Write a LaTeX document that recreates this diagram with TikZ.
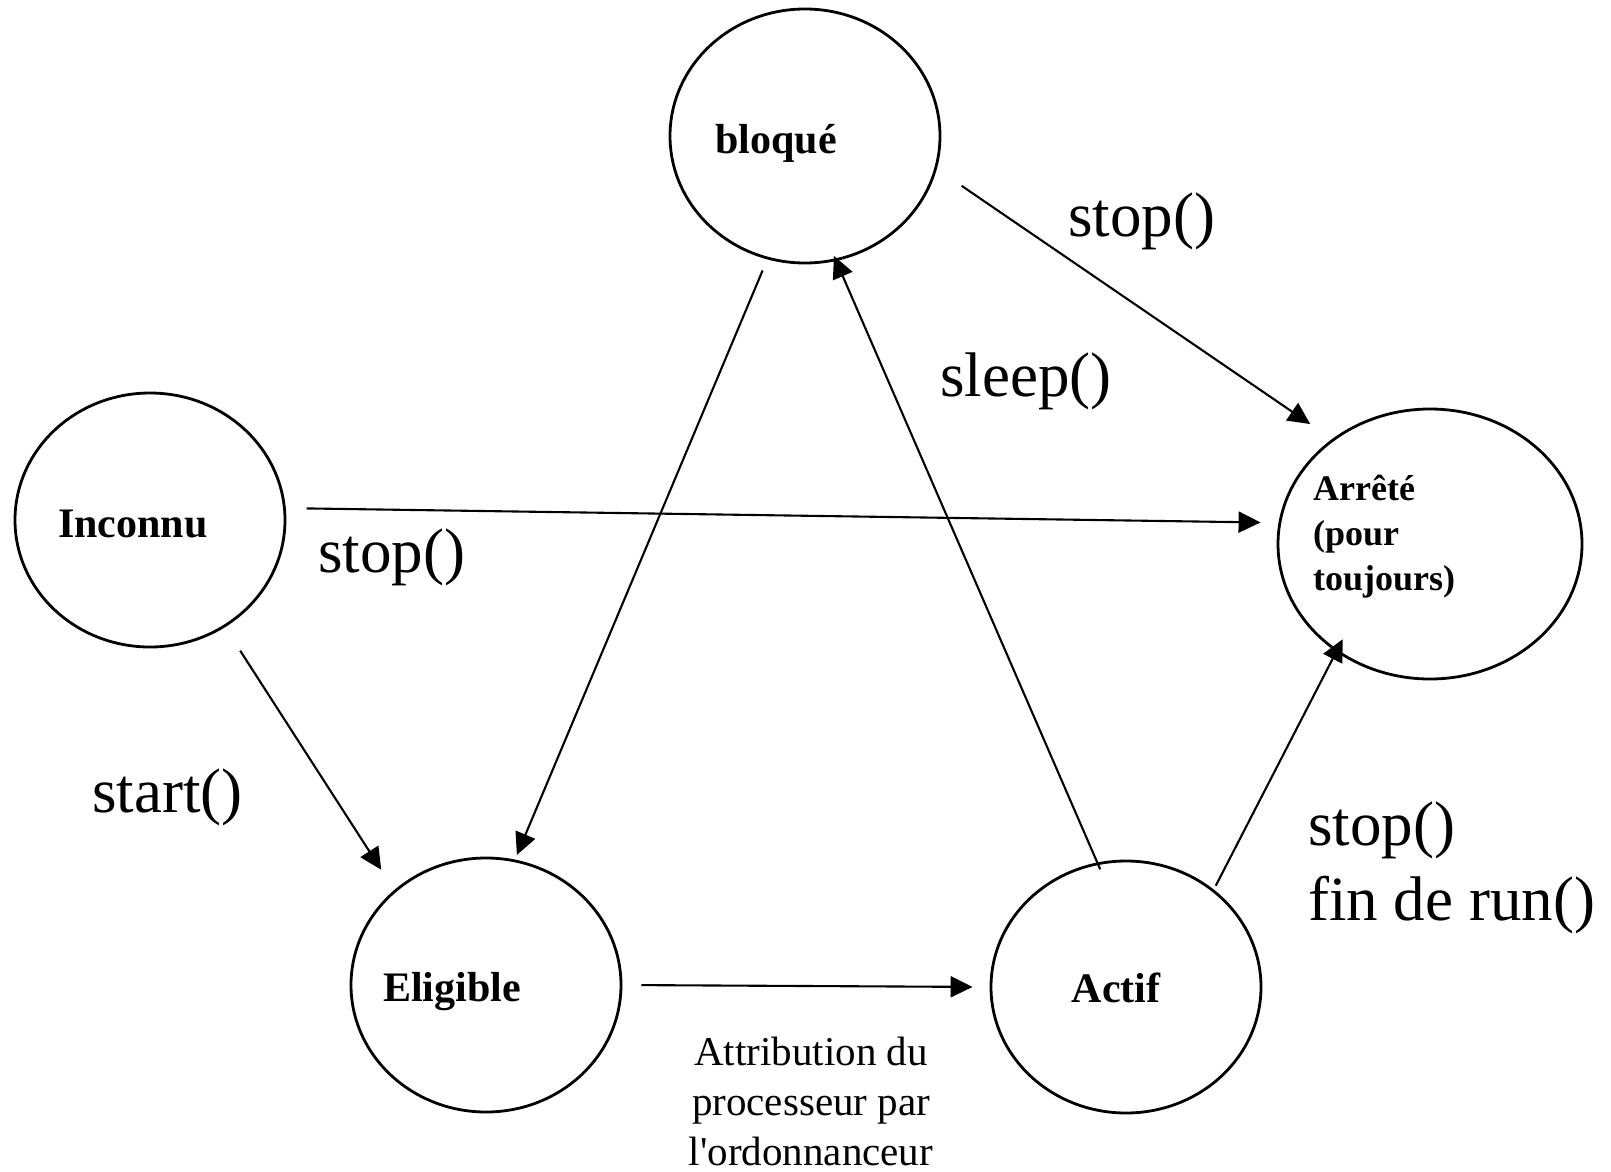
\documentclass[tikz,border=0pt]{standalone}
\usepackage{fontspec}
\setmainfont{Liberation Serif}
\usetikzlibrary{shapes.geometric,arrows.meta}

\begin{document}
\begin{tikzpicture}[x=1pt,y=-1pt,
  state/.style={draw, ellipse, line width=2.8pt, inner sep=0pt},
  statetext/.style={inner sep=0pt, font=\fontsize{42}{50}\selectfont\bfseries},
  smalltext/.style={inner sep=0pt, font=\fontsize{36}{45}\selectfont\bfseries},
  calltext/.style={inner sep=0pt, font=\fontsize{63}{75}\selectfont},
  notetext/.style={inner sep=0pt, font=\fontsize{41}{50}\selectfont},
  conn/.style={line width=2.1pt, -{Triangle[length=22pt,width=21pt]}}]

% page
\fill[white] (0,0) rectangle (1611,1172);
\useasboundingbox (0,0) rectangle (1611,1172);

% states
\node[state, minimum width=270pt, minimum height=254pt] (bloque)  at (805,136)  {};
\node[state, minimum width=270pt, minimum height=254pt] (inconnu) at (150,520)  {};
\node[state, minimum width=304pt, minimum height=270pt] (arrete)  at (1430,544) {};
\node[state, minimum width=270pt, minimum height=254pt] (eligible) at (486,985) {};
\node[state, minimum width=270pt, minimum height=252pt] (actif)   at (1126,987) {};

% state names
\node[statetext, anchor=base] (bloque-name)   at (776,153)  {bloqué};
\node[statetext, anchor=base] (inconnu-name)  at (133,537)  {Inconnu};
\node[statetext, anchor=base] (eligible-name) at (452,1001) {Eligible};
\node[statetext, anchor=base] (actif-name)    at (1116,1002) {Actif};
\node[smalltext, anchor=base west] (arrete-name) at (1313,500)
  {\begin{tabular}[t]{@{}l@{}}Arrêté\\(pour\\toujours)\end{tabular}};

% transitions
\draw[conn, shorten <=30pt, shorten >=26.5pt] (bloque.-14.7) -- (arrete.133.6);
\draw[conn, shorten <=20.7pt, shorten >=17.9pt] (inconnu.5.7) -- (arrete.172.1);
\draw[conn, shorten <=28pt, shorten >=24pt] (inconnu.-55.3) -- (eligible.134.1);
\draw[conn, shorten <=12pt, shorten >=5pt] (bloque.-107) -- (eligible.77.8);
\draw[conn, shorten <=-7.5pt, shorten >=-5.5pt] (actif.103.7) -- (bloque.-76.8);
\draw[conn, shorten <=19pt, shorten >=17pt] (eligible.0) -- (actif.180);
\draw[conn, shorten <=4.3pt, shorten >=-14.3pt] (actif.48.5) -- (arrete.-131.8);

% transition labels
\node[calltext, anchor=base west] (lbl-stop-top)  at (1068,236) {stop()};
\node[calltext, anchor=base west] (lbl-sleep)     at (940,396)  {sleep()};
\node[calltext, anchor=base west] (lbl-stop-left) at (318,572)  {stop()};
\node[calltext, anchor=base west] (lbl-start)     at (92,812)   {start()};
\node[calltext, anchor=base west] (lbl-stop-end)  at (1308,845)
  {\begin{tabular}[t]{@{}l@{}}stop()\\fin de run()\end{tabular}};
\node[notetext, anchor=base] (lbl-sched) at (811,1065)
  {\begin{tabular}[t]{@{}c@{}}Attribution du\\processeur par\\l\textquotesingle ordonnanceur\end{tabular}};
\end{tikzpicture}
\end{document}
